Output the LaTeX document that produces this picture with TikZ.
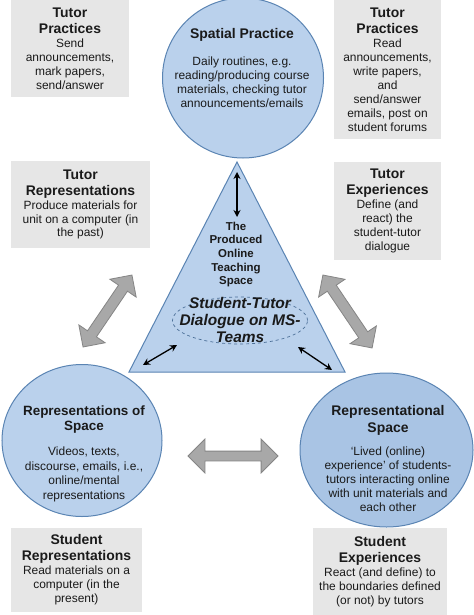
\documentclass[tikz,border=0pt]{standalone}
\usepackage{fontspec}
\setmainfont{Liberation Sans}
\usetikzlibrary{shapes.geometric,shapes.arrows,arrows.meta}
\definecolor{boxgray}{HTML}{E6E6E6}
\definecolor{cfill}{HTML}{BAD1EC}
\definecolor{cfilldark}{HTML}{A9C4E4}
\definecolor{cline}{HTML}{5A84B3}
\definecolor{agray}{HTML}{A8A8A8}
\definecolor{aline}{HTML}{858585}
\definecolor{txt}{HTML}{1A1A1A}
\newcommand{\ttl}[1]{{\fontsize{14}{16}\bfseries #1}}
\newcommand{\ttlb}[1]{{\fontsize{13.5}{16}\bfseries #1}}
\begin{document}
\begin{tikzpicture}[x=1bp,y=-1bp,
  infobox/.style={fill=boxgray, inner sep=0pt, align=center, text=txt, font=\fontsize{12}{14}\selectfont},
  space/.style={ellipse, fill=cfill, draw=cline, line width=1bp, inner sep=0pt},
  spacetext/.style={align=center, text=txt, inner sep=0pt},
  blockarrow/.style={double arrow, fill=agray, draw=aline, line width=0.8bp, inner sep=0pt},
  link/.style={{Stealth[length=7bp,width=7bp]}-{Stealth[length=7bp,width=7bp]}, line width=1.3bp, black},
]
\fill[white] (0,0) rectangle (474,615);
\useasboundingbox (0,0) rectangle (474,615);

% gray info boxes
\node[infobox, minimum width=118bp, minimum height=97bp] (tpL) at (70,48.5)
  {\ttl{Tutor}\\[2bp] \ttl{Practices}\\ Send\\ announcements,\\ mark papers,\\ send/answer};
\node[infobox, minimum width=107bp, minimum height=139bp] (tpR) at (387.5,69.5)
  {\ttl{Tutor}\\[2bp] \ttl{Practices}\\ Read\\ announcements,\\ write papers,\\ and\\ send/answer\\ emails, post on\\ student forums};
\node[infobox, minimum width=139bp, minimum height=87bp] (trep) at (80.5,204.5)
  {\ttl{Tutor}\\[2bp] \ttl{Representations}\\ Produce materials for\\ unit on a computer (in\\ the past)};
\node[infobox, minimum width=107bp, minimum height=98bp] (texp) at (387.5,211)
  {\ttl{Tutor}\\[2bp] \ttl{Experiences}\\ Define (and\\ react) the\\ student-tutor\\ dialogue};
\node[infobox, minimum width=131bp, minimum height=84bp] (srep) at (76.5,570)
  {\ttl{Student}\\[2bp] \ttl{Representations}\\ Read materials on a\\ computer (in the\\ present)};
\node[infobox, minimum width=134bp, minimum height=87bp] (sexp) at (380,571.5)
  {\ttl{Student}\\[2bp] \ttl{Experiences}\\ React (and define) to\\ the boundaries defined\\ (or not) by tutors};

% central triangle
\coordinate (apex) at (237,162);
\coordinate (bl) at (129,372);
\coordinate (br) at (345,372);
\draw[fill=cfill, draw=cline, line width=1bp] (apex) -- (bl) -- (br) -- cycle;
\node[spacetext, font=\fontsize{11.5}{13.75}\bfseries] (prod) at (236,254.5)
  {The\\ Produced\\ Online\\ Teaching\\ Space};
\node[ellipse, draw=cline!85!black, dashed, line width=0.7bp, minimum width=135bp, minimum height=47bp, inner sep=0pt] (dlg) at (240,320.5) {};
\node[spacetext, font=\fontsize{15.5}{17}\bfseries\itshape] (dlgtext) at (240,320)
  {Student-Tutor\\ Dialogue on MS-\\ Teams};

% three spaces
\node[space, minimum width=161bp, minimum height=160bp] (sp) at (243,78) {};
\node[spacetext, font=\fontsize{12}{14}\selectfont] (sptext) at (242,68)
  {\ttl{Spatial Practice}\\[13bp] Daily routines, e.g.\\ reading/producing course\\ materials, checking tutor\\ announcements/emails};
\node[space, minimum width=160bp, minimum height=152bp] (ros) at (82,440.5) {};
\node[spacetext, font=\fontsize{12}{14.5}\selectfont] (rostext) at (84,453.5)
  {\ttlb{Representations of}\\[1.5bp] \ttlb{Space}\\[10.5bp] Videos, texts,\\ discourse, emails, i.e.,\\ online/mental\\ representations};
\node[space, fill=cfilldark, minimum width=173bp, minimum height=154bp] (rs) at (386.5,450) {};
\node[spacetext, font=\fontsize{12}{14.25}\selectfont] (rstext) at (388,458.5)
  {\ttl{Representational}\\[2.75bp] \ttl{Space}\\[8.75bp] `Lived (online)\\ experience' of students-\\ tutors interacting online\\ with unit materials and\\ each other};

% small black double arrows inside the triangle
\coordinate (va1) at (237,172);
\coordinate (va2) at (237,217);
\draw[link] (va1) -- (va2);
\coordinate (la1) at (143,365);
\coordinate (la2) at (177,345);
\draw[link] (la1) -- (la2);
\coordinate (ra1) at (298,347);
\coordinate (ra2) at (332,370);
\draw[link] (ra1) -- (ra2);

% gray block arrows
\node[blockarrow, minimum height=87bp, inner ysep=5bp, double arrow head extend=10.5bp, rotate=55.8] (gaL) at (107.5,311) {};
\node[blockarrow, minimum height=88bp, inner ysep=5bp, double arrow head extend=10.5bp, rotate=-56] (gaR) at (347.5,311.5) {};
\node[blockarrow, minimum height=90bp, inner ysep=4.5bp, double arrow head extend=12bp] (gaH) at (233,456) {};
\end{tikzpicture}
\end{document}
